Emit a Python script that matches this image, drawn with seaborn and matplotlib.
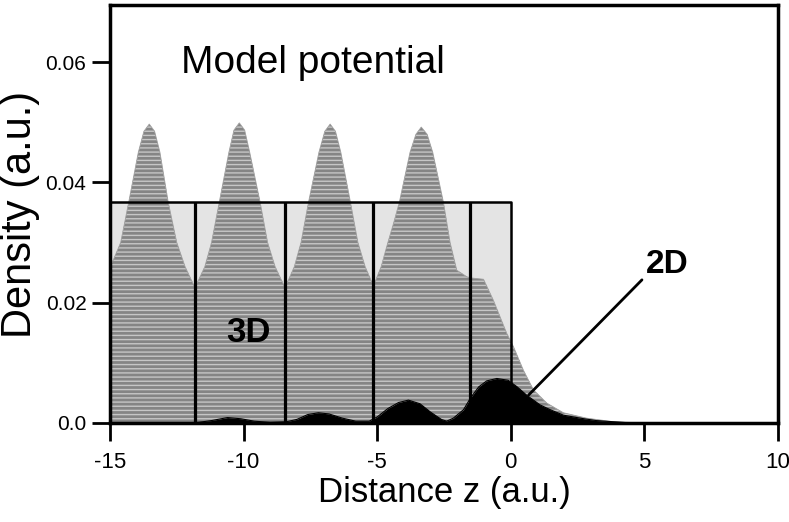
import numpy as np
import matplotlib
matplotlib.use("Agg")
import matplotlib.pyplot as plt
from matplotlib.patches import Rectangle
import seaborn as sns

# perfil de densidade 3D
z_3d = [-15.0, -14.6, -14.3, -13.94, -13.73, -13.53, -13.33, -13.13, -12.82, -12.5, -12.19,
        -11.82, -11.45, -11.2, -10.91, -10.55, -10.36, -10.16, -9.96, -9.77, -9.38, -9.1, -8.82,
        -8.45, -8.1, -7.85, -7.57, -7.18, -6.96, -6.76, -6.56, -6.36, -6.0, -5.72, -5.45,
        -5.14, -4.85, -4.6, -4.4, -4.17, -3.77, -3.55, -3.35, -3.13, -2.92, -2.52, -2.27, -2.02,
        -1.64, -1.46, -1.02, -0.65, -0.15, 0.1, 0.47, 0.85, 1.35, 1.97, 2.84, 3.85, 5.0, 10.0]
dens_3d = [0.0258, 0.0300, 0.0367, 0.0450, 0.0485, 0.0497, 0.0485, 0.0450, 0.0367, 0.0300, 0.0260,
           0.0225, 0.0260, 0.0300, 0.0367, 0.0450, 0.0487, 0.0499, 0.0487, 0.0450, 0.0367, 0.0300, 0.0260,
           0.0225, 0.0260, 0.0300, 0.0367, 0.0450, 0.0485, 0.0497, 0.0485, 0.0450, 0.0367, 0.0300, 0.0260,
           0.0228, 0.0260, 0.0300, 0.0330, 0.0367, 0.0450, 0.0480, 0.0492, 0.0480, 0.0450, 0.0367, 0.0300, 0.0254,
           0.0243, 0.0241, 0.0239, 0.0204, 0.0149, 0.0127, 0.0088, 0.0055, 0.0033, 0.0017, 0.0008, 0.0002, 0.0, 0.0]

# densidade 2D
z_2d = [-15.0, -12.5, -11.7, -11.2, -10.6, -10.1, -9.6, -9.0, -8.4, -8.0, -7.6, -7.2, -6.8, -6.3,
        -5.8, -5.3, -5.0, -4.6, -4.2, -3.83, -3.4, -3.0, -2.6, -2.4, -2.15, -1.77, -1.5, -1.2,
        -0.9, -0.52, -0.1, 0.24, 0.6, 0.85, 1.1, 1.48, 1.97, 2.6, 3.2, 4.35, 10.0]
dens_2d = [0.0, 0.0, 0.0001, 0.0004, 0.0009, 0.0007, 0.0003, 0.0001, 0.0002, 0.0006, 0.0014, 0.0017, 0.0015, 0.0008,
           0.0003, 0.0003, 0.0010, 0.0024, 0.0034, 0.0038, 0.0032, 0.0018, 0.0006, 0.0003, 0.0008, 0.0022, 0.0042, 0.0060,
           0.0070, 0.0074, 0.0071, 0.0060, 0.0046, 0.0038, 0.0030, 0.0022, 0.0013, 0.0008, 0.0004, 0.00005, 0.0]

# potencial modelo (caixa) e camadas
box_z = [-15.0, 0.0]
box_v = 0.0367
layers = [-11.82, -8.45, -5.14, -1.53]

xticks = [-15, -10, -5, 0, 5, 10]
yticks = [0.0, 0.02, 0.04, 0.06]
ytick_labels = ["0.0", "0.02", "0.04", "0.06"]

sns.set_style("ticks")
plt.rcParams['font.family'] = ['Liberation Sans', 'DejaVu Sans']
plt.rcParams['hatch.linewidth'] = 1.0
for k in ['text.color', 'axes.labelcolor', 'xtick.color', 'ytick.color']:
    plt.rcParams[k] = 'black'

fig = plt.figure(figsize=(7.89, 5.22), dpi=100)
ax = fig.add_axes([0.1394, 0.1897, 0.8466, 0.8007])

# caixa do potencial
ax.add_patch(Rectangle((box_z[0], 0), box_z[1] - box_z[0], box_v,
                       facecolor='#e4e4e4', edgecolor='none', zorder=1))

# densidade 3D hachurada
ax.fill_between(z_3d, 0, dens_3d, facecolor='#858585', edgecolor='#c6c6c6',
                hatch='----', linewidth=0, zorder=2)
sns.lineplot(x=z_3d, y=dens_3d, ax=ax, color='#a0a0a0', lw=0.6, zorder=2.5)

# contorno da caixa e camadas
ax.plot([box_z[0], box_z[1], box_z[1]], [box_v, box_v, 0], color='black', lw=1.8, zorder=3)
ax.vlines(layers, 0, box_v, colors='black', lw=2.3, zorder=3)

# densidade 2D
ax.fill_between(z_2d, 0, dens_2d, color='black', lw=0, zorder=4)
sns.lineplot(x=z_2d, y=dens_2d, ax=ax, color='black', lw=0.8, zorder=4)

ax.text(-7.4, 0.0598, "Model potential", fontsize=28, ha='center', va='center')
ax.text(-9.83, 0.0150, "3D", fontsize=25, fontweight='bold', ha='center', va='center', zorder=5)
ax.text(5.85, 0.0264, "2D", fontsize=24, fontweight='bold', ha='center', va='center')
ax.plot([4.91, 0.67], [0.0238, 0.00466], color='black', lw=2.0, zorder=5)

ax.set_xlim(-15, 10)
ax.set_ylim(0, 0.0695)
ax.set_xticks(xticks)
ax.set_xticklabels([str(t) for t in xticks])
ax.set_yticks(yticks)
ax.set_yticklabels(ytick_labels)
ax.tick_params(axis='both', direction='out', length=13, width=2, color='black')
ax.tick_params(axis='x', labelsize=16, pad=8)
ax.tick_params(axis='y', labelsize=15, pad=4)
ax.set_xlabel("Distance z (a.u.)", fontsize=25, labelpad=2)
ax.set_ylabel("Density (a.u.)", fontsize=30, labelpad=4)
for s in ax.spines.values():
    s.set_linewidth(2.5)
    s.set_color('black')
    s.set_zorder(6)

fig.savefig("out.png", dpi=100)
